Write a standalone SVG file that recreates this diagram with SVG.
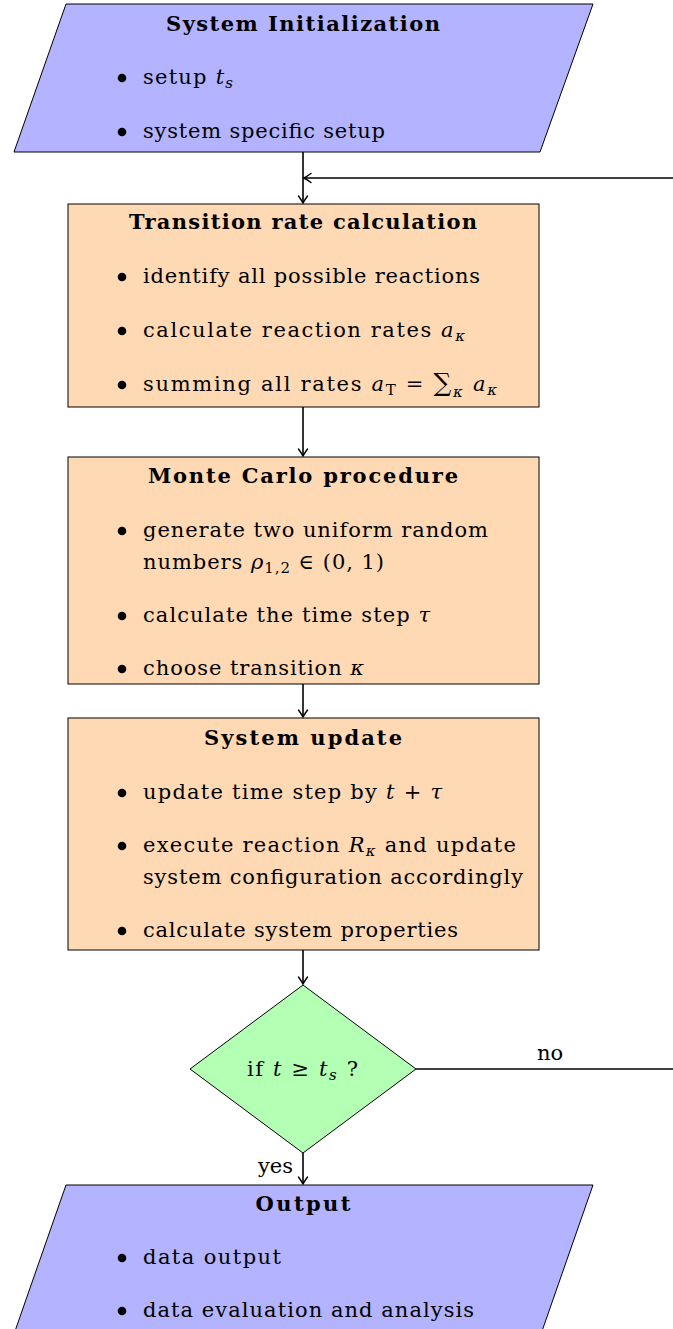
<svg xmlns="http://www.w3.org/2000/svg" width="673" height="1329" viewBox="0 0 673 1329">
<style>
text{font-family:"DejaVu Serif","Liberation Serif",serif;font-size:21px;fill:#000}
.t{font-weight:bold;text-anchor:middle}
.m{font-style:italic}
.s{font-size:15px}
.blue{fill:#b3b3ff;stroke:#000;stroke-width:1}
.orange{fill:#ffd9b3;stroke:#000;stroke-width:1}
.green{fill:#b3ffb3;stroke:#000;stroke-width:1}
.c{fill:none;stroke:#000;stroke-width:1.6}
</style>
<defs>
<marker id="ah" markerUnits="userSpaceOnUse" markerWidth="14" markerHeight="14" viewBox="-10 -7 14 14" refX="0" refY="0" orient="auto">
<path d="M-7,-4.5 Q-2,-1 0,0 Q-2,1 -7,4.5" fill="none" stroke="#000" stroke-width="1.4" stroke-linecap="round"/>
</marker>
</defs>

<g id="init">
<polygon class="blue" points="66,4 593,4 540,152 14,152"/>
<text class="t" x="303" y="31" textLength="274">System Initialization</text>
<circle cx="122" cy="78" r="4.3"/>
<text x="143" y="84" textLength="90">setup <tspan class="m">t</tspan><tspan class="m s" dy="4">s</tspan></text>
<circle cx="122" cy="132" r="4.3"/>
<text x="143" y="138" textLength="242">system specific setup</text>
</g>

<g id="rate">
<rect class="orange" x="68" y="204" width="471" height="203"/>
<text class="t" x="303" y="229" textLength="348">Transition rate calculation</text>
<circle cx="122" cy="277" r="4.3"/>
<text x="143" y="283" textLength="337">identify all possible reactions</text>
<circle cx="122" cy="331" r="4.3"/>
<text x="143" y="337" textLength="322">calculate reaction rates <tspan class="m">a</tspan><tspan class="m s" dy="4">κ</tspan></text>
<circle cx="122" cy="385" r="4.3"/>
<text x="143" y="391" textLength="354">summing all rates <tspan class="m">a</tspan><tspan class="s" dy="4">T</tspan><tspan dy="-4"> = </tspan><tspan font-size="25">∑</tspan><tspan class="m s" dy="6">κ</tspan><tspan class="m" dy="-6"> a</tspan><tspan class="m s" dy="4">κ</tspan></text>
</g>

<g id="mc">
<rect class="orange" x="68" y="457" width="471" height="227"/>
<text class="t" x="303" y="483" textLength="310">Monte Carlo procedure</text>
<circle cx="122" cy="531" r="4.3"/>
<text x="143" y="537" textLength="345">generate two uniform random</text>
<text x="143" y="569" textLength="241">numbers <tspan class="m">ρ</tspan><tspan class="s" dy="4">1,2</tspan><tspan dy="-4"> ∈ (0, 1)</tspan></text>
<circle cx="122" cy="616" r="4.3"/>
<text x="143" y="622" textLength="287">calculate the time step <tspan class="m">τ</tspan></text>
<circle cx="122" cy="669" r="4.3"/>
<text x="143" y="675" textLength="221">choose transition <tspan class="m">κ</tspan></text>
</g>

<g id="update">
<rect class="orange" x="68" y="718" width="471" height="232"/>
<text class="t" x="303" y="745" textLength="198">System update</text>
<circle cx="122" cy="793" r="4.3"/>
<text x="143" y="799" textLength="299">update time step by <tspan class="m">t</tspan> + <tspan class="m">τ</tspan></text>
<circle cx="122" cy="846" r="4.3"/>
<text x="143" y="852" textLength="373">execute reaction <tspan class="m">R</tspan><tspan class="m s" dy="4">κ</tspan><tspan dy="-4"> and update</tspan></text>
<text x="143" y="884" textLength="380">system configuration accordingly</text>
<circle cx="122" cy="931" r="4.3"/>
<text x="143" y="937" textLength="315">calculate system properties</text>
</g>

<g id="decision">
<polygon class="green" points="303,985 416,1069 303,1153 190,1069"/>
<text x="247" y="1076" textLength="111">if <tspan class="m">t</tspan> ≥ <tspan class="m">t</tspan><tspan class="m s" dy="4">s</tspan><tspan dy="-4"> ?</tspan></text>
</g>

<g id="output">
<polygon class="blue" points="66,1185 593,1185 541,1334 14,1334"/>
<text class="t" x="303" y="1211" textLength="95">Output</text>
<circle cx="122" cy="1258" r="4.3"/>
<text x="143" y="1264" textLength="138">data output</text>
<circle cx="122" cy="1311" r="4.3"/>
<text x="143" y="1317" textLength="331">data evaluation and analysis</text>
</g>

<g id="connectors">
<line class="c" x1="303" y1="152" x2="303" y2="203" marker-end="url(#ah)"/>
<line class="c" x1="673" y1="178" x2="304" y2="178" marker-end="url(#ah)"/>
<line class="c" x1="303" y1="407" x2="303" y2="456" marker-end="url(#ah)"/>
<line class="c" x1="303" y1="684" x2="303" y2="717" marker-end="url(#ah)"/>
<line class="c" x1="303" y1="950" x2="303" y2="984" marker-end="url(#ah)"/>
<line class="c" x1="303" y1="1153" x2="303" y2="1184" marker-end="url(#ah)"/>
<line class="c" x1="416" y1="1069" x2="673" y2="1069"/>
<text x="550" y="1060" text-anchor="middle">no</text>
<text x="293" y="1173" text-anchor="end">yes</text>
</g>
</svg>
